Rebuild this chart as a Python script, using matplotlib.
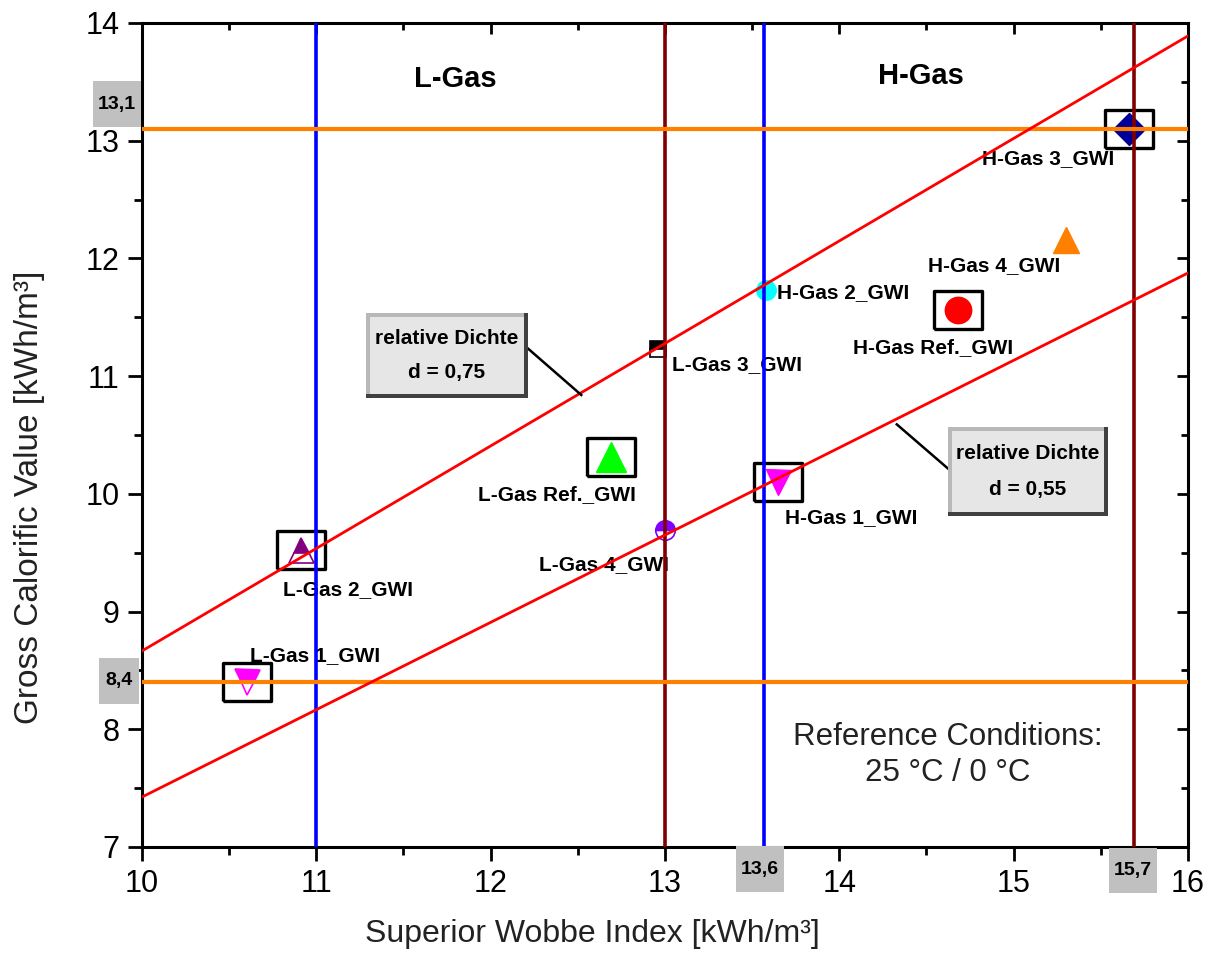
import matplotlib
matplotlib.use('Agg')
import matplotlib.pyplot as plt
from matplotlib.patches import Rectangle

plt.rcParams['font.family'] = ['Liberation Sans', 'DejaVu Sans']

# gas samples
names = ['L-Gas 1_GWI', 'L-Gas 2_GWI', 'L-Gas 3_GWI', 'L-Gas 4_GWI', 'L-Gas Ref._GWI',
         'H-Gas 1_GWI', 'H-Gas 2_GWI', 'H-Gas 3_GWI', 'H-Gas 4_GWI', 'H-Gas Ref._GWI']
wobbe = [10.60, 10.91, 12.96, 13.00, 12.69, 13.65, 13.58, 15.66, 15.30, 14.68]
calorific = [8.40, 9.52, 11.23, 9.69, 10.31, 10.10, 11.73, 13.10, 12.16, 11.56]
markers = ['v', '^', 's', 'o', '^', 'v', 'o', 'D', '^', 'o']
colors = ['#ff00ff', '#800080', '#000000', '#8000ff', '#00ff00',
          '#ff00ff', '#00ffff', '#000099', '#ff8000', '#ff0000']
half_filled = [True, True, True, True, False, False, False, False, False, False]
boxed = [True, True, False, False, True, True, False, True, False, True]
label_pos = [(10.62, 8.63), (10.81, 9.19), (13.04, 11.10), (12.28, 9.40), (11.93, 9.99),
             (13.69, 9.80), (13.64, 11.71), (14.82, 12.85), (14.51, 11.94), (14.08, 11.24)]

# limit lines
wobbe_limits_l = [11.0, 13.57]
wobbe_limits_h = [13.0, 15.69]
calorific_limits = [8.4, 13.1]
# relative density lines (x ends, y ends)
dens_x = [10.0, 16.0]
dens_075 = [8.665, 13.89]
dens_055 = [7.424, 11.876]

fig = plt.figure(figsize=(12.08, 9.58), dpi=100)
ax = fig.add_axes([0.1175, 0.1159, 0.8659, 0.8601])

for i in range(len(names)):
    kw = dict(marker=markers[i], color=colors[i], markeredgecolor=colors[i], linestyle='none', zorder=2)
    ms = {'v': 18, '^': 18, 's': 11, 'o': 14, 'D': 16}[markers[i]]
    if markers[i] == '^' and not half_filled[i]:
        ms = 21
    if names[i] == 'H-Gas Ref._GWI':
        ms = 19
    if names[i] == 'H-Gas 4_GWI':
        ms = 19
    if half_filled[i]:
        kw.update(fillstyle='top', markerfacecoloralt='white', markeredgewidth=1.2)
    ax.plot(wobbe[i], calorific[i], markersize=ms, **kw)
    if boxed[i]:
        ax.plot(wobbe[i], calorific[i], marker=[(-1.25, -1), (1.25, -1), (1.25, 1), (-1.25, 1), (-1.25, -1)],
                markersize=35, markerfacecolor='none', markeredgecolor='black', markeredgewidth=2.4,
                linestyle='none', zorder=2)
    ax.text(label_pos[i][0], label_pos[i][1], names[i], fontsize=15, fontweight='bold',
            ha='left', va='center', zorder=2.5)

for x in wobbe_limits_l:
    ax.axvline(x, color='#0000ff', lw=2.6, zorder=3)
for x in wobbe_limits_h:
    ax.axvline(x, color='#800000', lw=2.6, zorder=3)
for y in calorific_limits:
    ax.axhline(y, color='#ff8000', lw=3, zorder=3)
ax.plot(dens_x, dens_075, color='#ff0000', lw=2, zorder=3)
ax.plot(dens_x, dens_055, color='#ff0000', lw=2, zorder=3)


def bevel_box(x, y, w, h, lines):
    dx, dy = 0.025, 0.035
    ax.add_patch(Rectangle((x, y), w, h, facecolor='#404040', edgecolor='none', zorder=4))
    ax.add_patch(Rectangle((x, y + dy), w - dx, h - dy, facecolor='#b8b8b8', edgecolor='none', zorder=4))
    ax.add_patch(Rectangle((x + dx, y + dy), w - 2 * dx, h - 2 * dy, facecolor='#e6e6e6',
                           edgecolor='none', zorder=4))
    ax.text(x + w / 2, y + h * 0.70, lines[0], fontsize=15, fontweight='bold', ha='center', va='center', zorder=5)
    ax.text(x + w / 2, y + h * 0.30, lines[1], fontsize=15, fontweight='bold', ha='center', va='center', zorder=5)


bevel_box(11.285, 10.814, 0.93, 0.72, ['relative Dichte', 'd = 0,75'])
ax.plot([12.21, 12.52], [11.24, 10.84], color='black', lw=1.8, zorder=3.5)
bevel_box(14.623, 9.812, 0.918, 0.756, ['relative Dichte', 'd = 0,55'])
ax.plot([14.635, 14.33], [10.20, 10.59], color='black', lw=1.8, zorder=3.5)

ax.text(11.795, 13.52, 'L-Gas', fontsize=21, fontweight='bold', ha='center', va='center')
ax.text(14.47, 13.55, 'H-Gas', fontsize=21, fontweight='bold', ha='center', va='center')
ax.text(14.62, 7.78, 'Reference Conditions:\n25 °C / 0 °C', fontsize=22.5, ha='center', va='center',
        linespacing=1.25, color='#222222')

# grey value tags outside the frame
tags = [('13,1', 9.857, 13.31), ('8,4', 9.868, 8.41), ('13,6', 13.545, 6.81), ('15,7', 15.685, 6.80)]
for txt, tx, ty in tags:
    w = 0.28 if txt != '8,4' else 0.225
    ax.add_patch(Rectangle((tx - w / 2, ty - 0.195), w, 0.39, facecolor='#c0c0c0', edgecolor='none',
                           clip_on=False, zorder=6))
    ax.text(tx, ty, txt, fontsize=14, fontweight='bold', ha='center', va='center', clip_on=False, zorder=7)

ax.set_xlim(10, 16)
ax.set_ylim(7, 14)
ax.set_xticks([10, 11, 12, 13, 14, 15, 16])
ax.set_yticks([7, 8, 9, 10, 11, 12, 13, 14])
ax.set_xticks([10.5, 11.5, 12.5, 13.5, 14.5, 15.5], minor=True)
ax.set_yticks([7.5, 8.5, 9.5, 10.5, 11.5, 12.5, 13.5], minor=True)
ax.tick_params(which='major', direction='out', length=10, width=2, labelsize=22, pad=6)
ax.tick_params(which='minor', direction='out', length=6, width=2)
for sp in ax.spines.values():
    sp.set_linewidth(2.2)

top = ax.secondary_xaxis('top')
top.set_xticks([10, 11, 12, 13, 14, 15, 16])
top.set_xticks([10.5, 11.5, 12.5, 13.5, 14.5, 15.5], minor=True)
top.tick_params(which='both', direction='in', labeltop=False, width=2)
top.tick_params(which='major', length=8)
top.tick_params(which='minor', length=5)
right = ax.secondary_yaxis('right')
right.set_yticks([7, 8, 9, 10, 11, 12, 13, 14])
right.set_yticks([7.5, 8.5, 9.5, 10.5, 11.5, 12.5, 13.5], minor=True)
right.tick_params(which='both', direction='in', labelright=False, width=2)
right.tick_params(which='major', length=8)
right.tick_params(which='minor', length=5)

ax.set_xlabel('Superior Wobbe Index [kWh/m³]', fontsize=23, color='#222222')
ax.set_ylabel('Gross Calorific Value [kWh/m³]', fontsize=24, color='#222222')
ax.xaxis.set_label_coords(0.4307, -0.088)
ax.yaxis.set_label_coords(-0.0927, 0.4248)

fig.savefig('out.png', dpi=100)
